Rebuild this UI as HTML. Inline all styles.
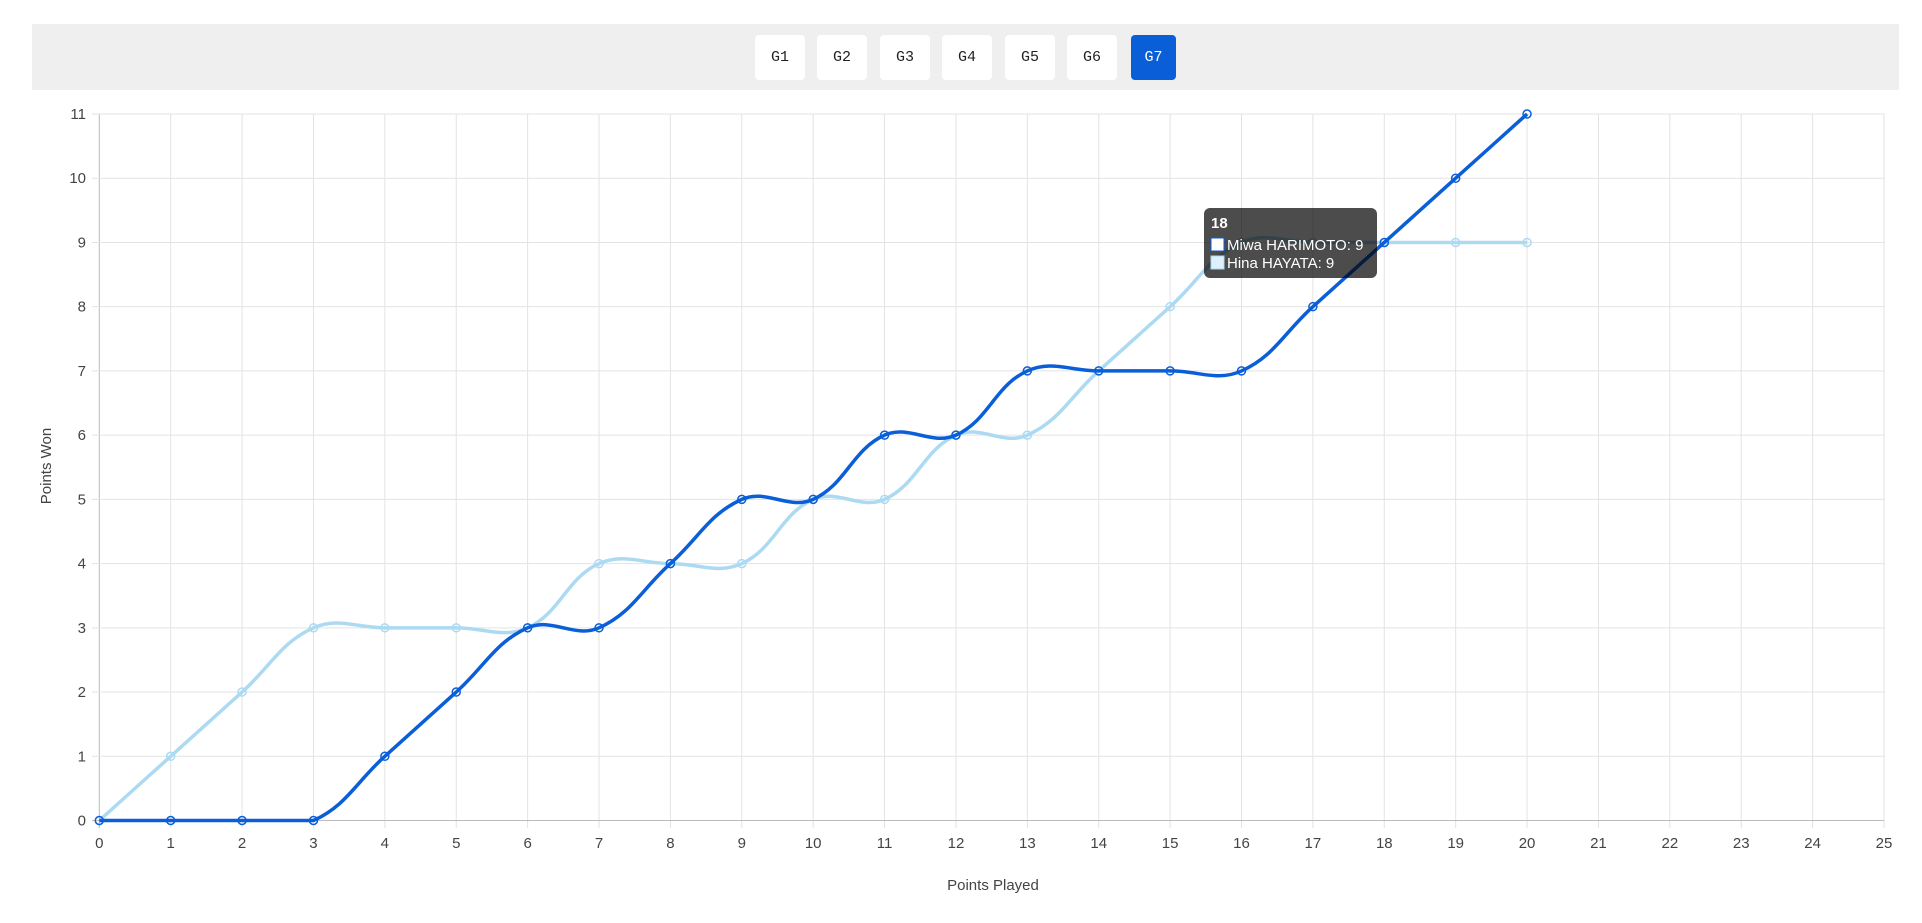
<!DOCTYPE html>
<html><head><meta charset="utf-8"><style>
html,body{margin:0;padding:0;background:#fff;width:1922px;height:923px;overflow:hidden;font-family:"Liberation Sans",Arial,sans-serif;}
.bar{position:absolute;left:32px;top:24px;width:1867px;height:66px;background:#efefef;}
.btn{position:absolute;top:35px;width:50px;height:45px;background:#fff;border-radius:4px;font-family:"Liberation Mono",monospace;font-size:15px;color:#222;text-align:center;line-height:45px;}
.btn.on{background:#0a5fd8;color:#fff;width:45px;}
</style></head><body>
<div class="bar"></div>
<div class="btn" style="left:755px">G1</div>
<div class="btn" style="left:817px">G2</div>
<div class="btn" style="left:880px">G3</div>
<div class="btn" style="left:942px">G4</div>
<div class="btn" style="left:1005px">G5</div>
<div class="btn" style="left:1067px">G6</div>
<div class="btn on" style="left:1131px">G7</div>
<svg id="c" width="1922" height="923" style="position:absolute;left:0;top:0" xmlns="http://www.w3.org/2000/svg"></svg>
<script>
var X0=99.3,XS=(1884-99.3)/25,Y0=820.5,YS=(820.5-114)/11;
function px(i){return X0+i*XS}function py(v){return Y0-v*YS}
function cl(y){return Math.max(114,Math.min(Y0,y))}
var s='';
for(var i=0;i<=25;i++){var x=px(i);s+='<line x1="'+x+'" y1="114" x2="'+x+'" y2="828" stroke="'+(i==0?'#bbb':'#e3e3e3')+'" stroke-width="1"/>';
s+='<text x="'+x+'" y="848" font-size="15" text-anchor="middle" fill="#444">'+i+'</text>';}
for(var v=0;v<=11;v++){var y=py(v);s+='<line x1="92" y1="'+y+'" x2="1884" y2="'+y+'" stroke="'+(v==0?'#bbb':'#e3e3e3')+'" stroke-width="1"/>';
s+='<text x="86" y="'+(y+5)+'" font-size="15" text-anchor="end" fill="#444">'+v+'</text>';}
s+='<text x="993" y="890" font-size="15" text-anchor="middle" fill="#444">Points Played</text>';
s+='<text transform="translate(51,466) rotate(-90)" font-size="15" text-anchor="middle" fill="#444">Points Won</text>';
function path(d,col){var p=d.map(function(v,i){return[px(i),py(v)]});var t=0.4,o='M'+p[0][0]+','+p[0][1];
var cp=[];for(var i=0;i<p.length;i++){var a=p[i-1]||p[i],b=p[i],c=p[i+1]||p[i];
var d01=Math.hypot(b[0]-a[0],b[1]-a[1]),d12=Math.hypot(c[0]-b[0],c[1]-b[1]);
var fa=d01+d12?d01/(d01+d12):0,fb=d01+d12?d12/(d01+d12):0;fa*=t;fb*=t;
cp.push({p:[b[0]-fa*(c[0]-a[0]),cl(b[1]-fa*(c[1]-a[1]))],n:[b[0]+fb*(c[0]-a[0]),cl(b[1]+fb*(c[1]-a[1]))]});}
for(var i=1;i<p.length;i++){o+=' C'+cp[i-1].n[0]+','+cp[i-1].n[1]+' '+cp[i].p[0]+','+cp[i].p[1]+' '+p[i][0]+','+p[i][1];}
var r='<path d="'+o+'" fill="none" stroke="'+col+'" stroke-width="3.5"/>';
p.forEach(function(q){r+='<circle cx="'+q[0]+'" cy="'+q[1]+'" r="4" fill="none" stroke="'+col+'" stroke-width="1.5"/>'});return r;}
s+=path([0,1,2,3,3,3,3,4,4,4,5,5,6,6,7,8,9,9,9,9,9],'#acdaf2');
s+=path([0,0,0,0,1,2,3,3,4,5,5,6,6,7,7,7,7,8,9,10,11],'#0a5fd8');
s+='<rect x="1204" y="208" width="173" height="70" rx="6" fill="rgba(0,0,0,0.7)"/>';
s+='<text x="1211" y="228" font-size="15" font-weight="bold" fill="#fff">18</text>';
s+='<rect x="1211" y="238" width="13" height="13" fill="#fff" stroke="#0a5fd8"/><text x="1227" y="250" font-size="15" fill="#fff">Miwa HARIMOTO: 9</text>';
s+='<rect x="1211" y="256" width="13" height="13" fill="#e0f0fa" stroke="#acdaf2"/><text x="1227" y="268" font-size="15" fill="#fff">Hina HAYATA: 9</text>';
document.getElementById('c').innerHTML=s;
</script>
</body></html>
